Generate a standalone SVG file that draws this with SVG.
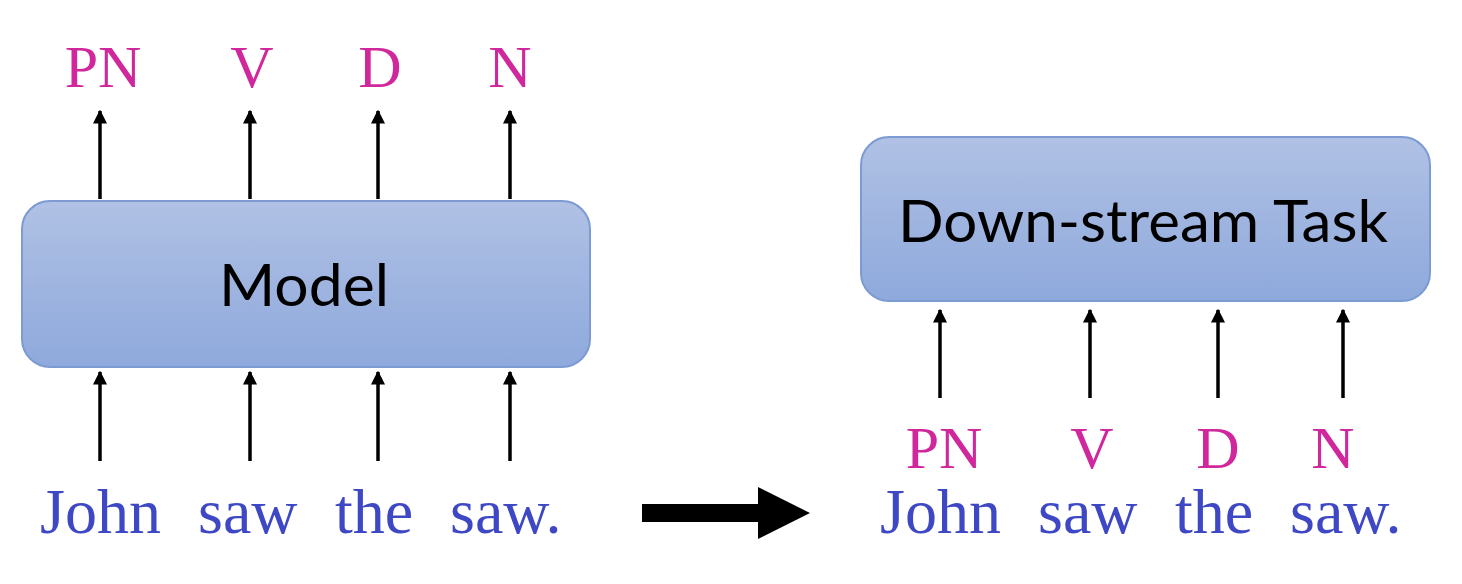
<svg xmlns="http://www.w3.org/2000/svg" width="1462" height="584" viewBox="0 0 1462 584">
<defs>
<linearGradient id="boxg" x1="0" y1="0" x2="0" y2="1">
<stop offset="0" stop-color="#b0c1e4"/>
<stop offset="1" stop-color="#8ea9dc"/>
</linearGradient>
<marker id="ah" viewBox="0 0 10 10" refX="9" refY="5" markerWidth="4" markerHeight="4" markerUnits="strokeWidth" orient="auto">
<path d="M0,0 L10,5 L0,10 Z" fill="#000"/>
</marker>
<style>
.box{fill:url(#boxg);stroke:#7c9bd3;stroke-width:2}
.btxt{font-family:Lato,"Open Sans",sans-serif;font-size:58px;fill:#000;text-anchor:middle}
.tag{font-family:"Liberation Serif",serif;font-size:60px;fill:#d0289c;text-anchor:middle}
.word{font-family:"Liberation Serif",serif;font-size:64px;fill:#3f48c4}
.conn{stroke:#000;stroke-width:3.5;fill:none;marker-end:url(#ah)}
</style>
</defs>
<rect width="1462" height="584" fill="#fff"/>
<g id="model">
<rect class="box" x="22" y="201" width="568" height="166" rx="28"/>
<text class="btxt" x="304" y="306" textLength="170" lengthAdjust="spacingAndGlyphs">Model</text>
</g>
<g id="downstream">
<rect class="box" x="861" y="137" width="569" height="164" rx="28"/>
<text class="btxt" x="1143" y="242" textLength="490" lengthAdjust="spacingAndGlyphs">Down-stream Task</text>
</g>
<g id="tags-left">
<text class="tag" x="103" y="87">PN</text>
<text class="tag" x="252" y="87">V</text>
<text class="tag" x="380" y="87">D</text>
<text class="tag" x="510" y="87">N</text>
</g>
<g id="sentence-left">
<text class="word" x="40" y="533">John</text>
<text class="word" x="198" y="533">saw</text>
<text class="word" x="335" y="533">the</text>
<text class="word" x="450" y="533">saw.</text>
</g>
<g id="tags-right">
<text class="tag" x="944" y="468">PN</text>
<text class="tag" x="1092" y="468">V</text>
<text class="tag" x="1218" y="468">D</text>
<text class="tag" x="1333" y="468">N</text>
</g>
<g id="sentence-right">
<text class="word" x="880" y="533">John</text>
<text class="word" x="1038" y="533">saw</text>
<text class="word" x="1175" y="533">the</text>
<text class="word" x="1290" y="533">saw.</text>
</g>
<g id="connectors">
<line class="conn" x1="100" y1="199" x2="100" y2="111"/>
<line class="conn" x1="250" y1="199" x2="250" y2="111"/>
<line class="conn" x1="378" y1="199" x2="378" y2="111"/>
<line class="conn" x1="510" y1="199" x2="510" y2="111"/>
<line class="conn" x1="100" y1="461" x2="100" y2="372"/>
<line class="conn" x1="250" y1="461" x2="250" y2="372"/>
<line class="conn" x1="378" y1="461" x2="378" y2="372"/>
<line class="conn" x1="510" y1="461" x2="510" y2="372"/>
<line class="conn" x1="940" y1="398" x2="940" y2="310"/>
<line class="conn" x1="1090" y1="398" x2="1090" y2="310"/>
<line class="conn" x1="1218" y1="398" x2="1218" y2="310"/>
<line class="conn" x1="1343" y1="398" x2="1343" y2="310"/>
<path d="M642,504 L758,504 L758,487 L810,513 L758,539 L758,522 L642,522 Z" fill="#000"/>
</g>
</svg>
